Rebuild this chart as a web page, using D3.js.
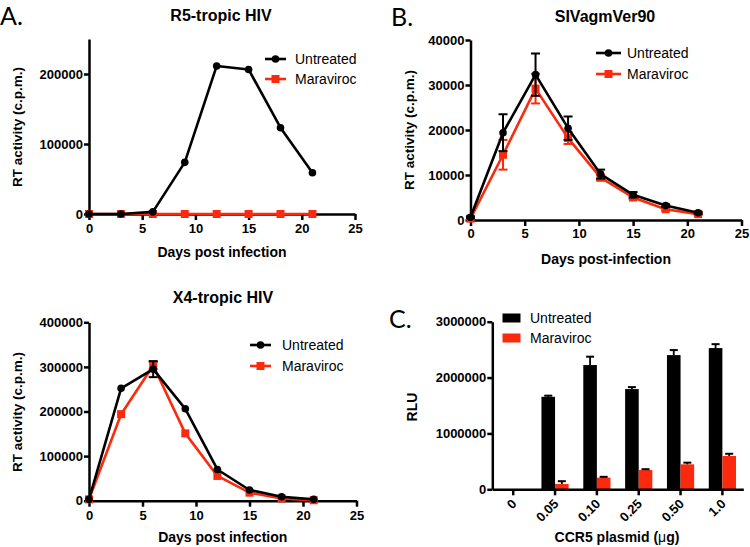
<!DOCTYPE html>
<html><head><meta charset="utf-8">
<script src="https://cdn.jsdelivr.net/npm/d3@7"></script>
<style>
body{margin:0;background:#fff;}
svg{display:block;}
svg text{font-family:"Liberation Sans",Arial,sans-serif;}
</style></head>
<body>
<script>
// ---------- DATA ----------
const days = [0, 3, 6, 9, 12, 15, 18, 21];
// Panel A: R5-tropic HIV
const r5Untreated = [0, 0, 3000, 73800, 211500, 206500, 123300, 59000];
const r5Maraviroc = [0, 0, 0, 0, 0, 0, 0, 0];
// Panel B: SIVagmVer90
const sivUntreated = [600, 19400, 32300, 20400, 10200, 5600, 3200, 1600];
const sivUntreatedErr = [200, 4100, 4700, 2600, 1000, 600, 300, 200];
const sivMaraviroc = [300, 14500, 29200, 18200, 9400, 5000, 2400, 1300];
const sivMaravirocErr = [100, 3300, 3300, 1300, 600, 400, 300, 200];
// X4-tropic HIV
const x4Untreated = [3000, 252000, 295000, 206000, 70000, 24000, 9000, 3000];
const x4UntreatedErr = [0, 0, 18000, 0, 0, 0, 0, 0];
const x4Maraviroc = [3000, 194000, 303000, 151000, 55500, 18000, 5000, 1000];
const x4MaravirocErr = [0, 0, 8000, 0, 0, 0, 0, 0];
// Panel C
const plasmid = ["0", "0.05", "0.10", "0.25", "0.50", "1.0"];
const rluUntreated = [0, 1656000, 2224000, 1794000, 2402000, 2528000];
const rluUntreatedErr = [0, 20000, 150000, 35000, 90000, 70000];
const rluMaraviroc = [0, 95000, 208000, 345000, 447000, 596000];
const rluMaravirocErr = [0, 50000, 15000, 15000, 30000, 40000];
const seriesNames = ["Untreated", "Maraviroc"];
const dayTicks = [0, 5, 10, 15, 20, 25];

const BLACK = "#000", RED = "#fb2a0e";
const FONT = '"Liberation Sans",Arial,sans-serif';
const svg = d3.select("body").append("svg").attr("width", 750).attr("height", 547);

function styleAxis(g) {
  g.selectAll("path.domain").attr("stroke", "#000").attr("stroke-width", 2.5);
  g.selectAll(".tick line").attr("stroke", "#000").attr("stroke-width", 2.5);
  g.selectAll("text").attr("font-size", 13).attr("font-weight", "bold").attr("fill", "#000")
    .attr("font-family", FONT);
}

function linePanel(o) {
  const x = d3.scaleLinear().domain([0, 25]).range([o.x0, o.x1]);
  const y = d3.scaleLinear().domain([0, o.ymax]).range([o.y0, o.y1]);
  const g = svg.append("g");
  const xa = g.append("g").attr("transform", `translate(0,${o.y0})`)
    .call(d3.axisBottom(x).tickValues(dayTicks).tickSize(6).tickPadding(o.xpad).tickSizeOuter(0));
  styleAxis(xa);
  const ya = g.append("g").attr("transform", `translate(${o.x0},0)`)
    .call(d3.axisLeft(y).tickValues(o.yticks).tickSize(5).tickPadding(1).tickSizeOuter(0).tickFormat(d3.format("d")));
  styleAxis(ya);
  const series = [
    {vals: o.mar, err: o.marErr, color: RED, shape: "sq"},
    {vals: o.unt, err: o.untErr, color: BLACK, shape: "ci"}
  ];
  series.forEach(s => {
    const pts = days.map((d, i) => ({d, v: s.vals[i], e: s.err ? s.err[i] : 0}));
    const eg = g.append("g");
    pts.filter(p => p.e > 0).forEach(p => {
      const cx = x(p.d);
      eg.append("line").attr("x1", cx).attr("x2", cx).attr("y1", y(p.v + p.e)).attr("y2", y(p.v - p.e))
        .attr("stroke", s.color).attr("stroke-width", 2);
      [p.v + p.e, p.v - p.e].forEach(v => eg.append("line").attr("x1", cx - 4.5).attr("x2", cx + 4.5)
        .attr("y1", y(v)).attr("y2", y(v)).attr("stroke", s.color).attr("stroke-width", 2));
    });
    g.append("path").datum(pts).attr("fill", "none").attr("stroke", s.color).attr("stroke-width", 2.6)
      .attr("stroke-linejoin", "round")
      .attr("d", d3.line().x(p => x(p.d)).y(p => y(p.v)));
    pts.forEach(p => {
      if (s.shape === "ci") g.append("circle").attr("cx", x(p.d)).attr("cy", y(p.v)).attr("r", 3.8).attr("fill", s.color);
      else g.append("rect").attr("x", x(p.d) - 4).attr("y", y(p.v) - 4).attr("width", 8).attr("height", 8).attr("fill", s.color);
    });
  });
  svg.append("text").attr("x", o.tx).attr("y", o.ty).attr("text-anchor", "middle").attr("font-family", FONT)
    .attr("font-size", 16).attr("font-weight", "bold").text(o.title);
  svg.append("text").attr("transform", `translate(${o.ylx},${o.yly}) rotate(-90)`).attr("font-family", FONT)
    .attr("text-anchor", "middle").attr("dominant-baseline", "middle")
    .attr("font-size", 13.5).attr("font-weight", "bold").text("RT activity (c.p.m.)");
  svg.append("text").attr("x", (o.x0 + o.x1) / 2).attr("y", o.xly).attr("text-anchor", "middle").attr("font-family", FONT)
    .attr("font-size", 14).attr("font-weight", "bold").text(o.xlabel);
  const lg = svg.append("g");
  [{c: BLACK, sh: "ci"}, {c: RED, sh: "sq"}].forEach((s, i) => {
    const yy = o.ly[i];
    lg.append("line").attr("x1", o.lx0).attr("x2", o.lx1).attr("y1", yy).attr("y2", yy)
      .attr("stroke", s.c).attr("stroke-width", 2.6);
    const mx = (o.lx0 + o.lx1) / 2;
    if (s.sh === "ci") lg.append("circle").attr("cx", mx).attr("cy", yy).attr("r", 3.8).attr("fill", s.c);
    else lg.append("rect").attr("x", mx - 4).attr("y", yy - 4).attr("width", 8).attr("height", 8).attr("fill", s.c);
    lg.append("text").attr("x", o.ltx).attr("y", yy).attr("dominant-baseline", "central").attr("font-family", FONT)
      .attr("font-size", 14).text(seriesNames[i]);
  });
}

linePanel({x0: 89, x1: 355, y0: 214, y1: 39, ymax: 250000, yticks: [0, 100000, 200000], xpad: 4,
  unt: r5Untreated, mar: r5Maraviroc, title: "R5-tropic HIV", tx: 221, ty: 21,
  ylx: 18, yly: 127, xly: 257, xlabel: "Days post infection",
  lx0: 265, lx1: 286, ly: [59, 79], ltx: 295});

linePanel({x0: 470.5, x1: 741.5, y0: 220, y1: 40, ymax: 40000, yticks: [0, 10000, 20000, 30000, 40000], xpad: 3,
  unt: sivUntreated, untErr: sivUntreatedErr, mar: sivMaraviroc, marErr: sivMaravirocErr,
  title: "SIVagmVer90", tx: 605, ty: 22,
  ylx: 410, yly: 130, xly: 264, xlabel: "Days post-infection",
  lx0: 596, lx1: 621, ly: [53, 74], ltx: 627});

linePanel({x0: 89, x1: 356.5, y0: 500.7, y1: 322.3, ymax: 400000, yticks: [0, 100000, 200000, 300000, 400000], xpad: 4,
  unt: x4Untreated, untErr: x4UntreatedErr, mar: x4Maraviroc, marErr: x4MaravirocErr,
  title: "X4-tropic HIV", tx: 223, ty: 303,
  ylx: 18, yly: 412, xly: 542, xlabel: "Days post infection",
  lx0: 250, lx1: 271, ly: [345, 366], ltx: 282});

// ---------- Panel C ----------
(function () {
  const x = d3.scaleBand().domain(plasmid).range([492.3, 743.3]).paddingInner(0).paddingOuter(0);
  const y = d3.scaleLinear().domain([0, 3000000]).range([489.3, 321.7]);
  const bw = 13.6;
  const g = svg.append("g");
  const bars = [{vals: rluUntreated, err: rluUntreatedErr, c: BLACK, off: -bw},
                {vals: rluMaraviroc, err: rluMaravirocErr, c: RED, off: 0}];
  bars.forEach(b => {
    plasmid.forEach((p, i) => {
      const cx = x(p) + x.bandwidth() / 2;
      const v = b.vals[i];
      if (v <= 0) return;
      g.append("rect").attr("x", cx + b.off).attr("y", y(v)).attr("width", bw).attr("height", y(0) - y(v)).attr("fill", b.c);
      const ex = cx + b.off + bw / 2;
      g.append("line").attr("x1", ex).attr("x2", ex).attr("y1", y(v)).attr("y2", y(v + b.err[i]))
        .attr("stroke", "#000").attr("stroke-width", 1.8);
      g.append("line").attr("x1", ex - 4).attr("x2", ex + 4).attr("y1", y(v + b.err[i])).attr("y2", y(v + b.err[i]))
        .attr("stroke", "#000").attr("stroke-width", 2);
    });
  });
  const xa = g.append("g").attr("transform", `translate(0,${y(0)})`)
    .call(d3.axisBottom(x).tickSize(6).tickSizeOuter(0).tickPadding(3));
  styleAxis(xa);
  xa.selectAll(".tick text").attr("text-anchor", "end").attr("x", 0).attr("y", 0).attr("dy", "0.35em")
    .attr("transform", "translate(1,12) rotate(-45)");
  const ya = g.append("g").attr("transform", `translate(492.3,0)`)
    .call(d3.axisLeft(y).tickValues([0, 1000000, 2000000, 3000000]).tickSize(5).tickPadding(1).tickSizeOuter(0).tickFormat(d3.format("d")));
  styleAxis(ya);
  svg.append("text").attr("transform", "translate(413,407) rotate(-90)").attr("text-anchor", "middle").attr("font-family", FONT)
    .attr("dominant-baseline", "middle").attr("font-size", 14).attr("font-weight", "bold").text("RLU");
  const xl = svg.append("text").attr("x", 617).attr("y", 542).attr("text-anchor", "middle").attr("font-family", FONT)
    .attr("font-size", 14).attr("font-weight", "bold");
  xl.append("tspan").text("CCR5 plasmid (");
  xl.append("tspan").attr("font-weight", "normal").text("μ");
  xl.append("tspan").text("g)");
  [{c: BLACK}, {c: RED}].forEach((s, i) => {
    const yy = [318, 338][i];
    svg.append("rect").attr("x", 502.5).attr("y", yy - 4.5).attr("width", 18).attr("height", 9).attr("fill", s.c);
    svg.append("text").attr("x", 530).attr("y", yy).attr("dominant-baseline", "central").attr("font-family", FONT)
      .attr("font-size", 14).text(seriesNames[i]);
  });
})();

// panel letters
[["A.", 0, 25], ["B.", 391, 26], ["C.", 389, 328]].forEach(([t, xx, yy]) => {
  svg.append("text").attr("x", xx).attr("y", yy).style("font-family", "Lato, 'Open Sans', sans-serif")
    .attr("font-size", 25).text(t);
});
</script>
</body></html>
